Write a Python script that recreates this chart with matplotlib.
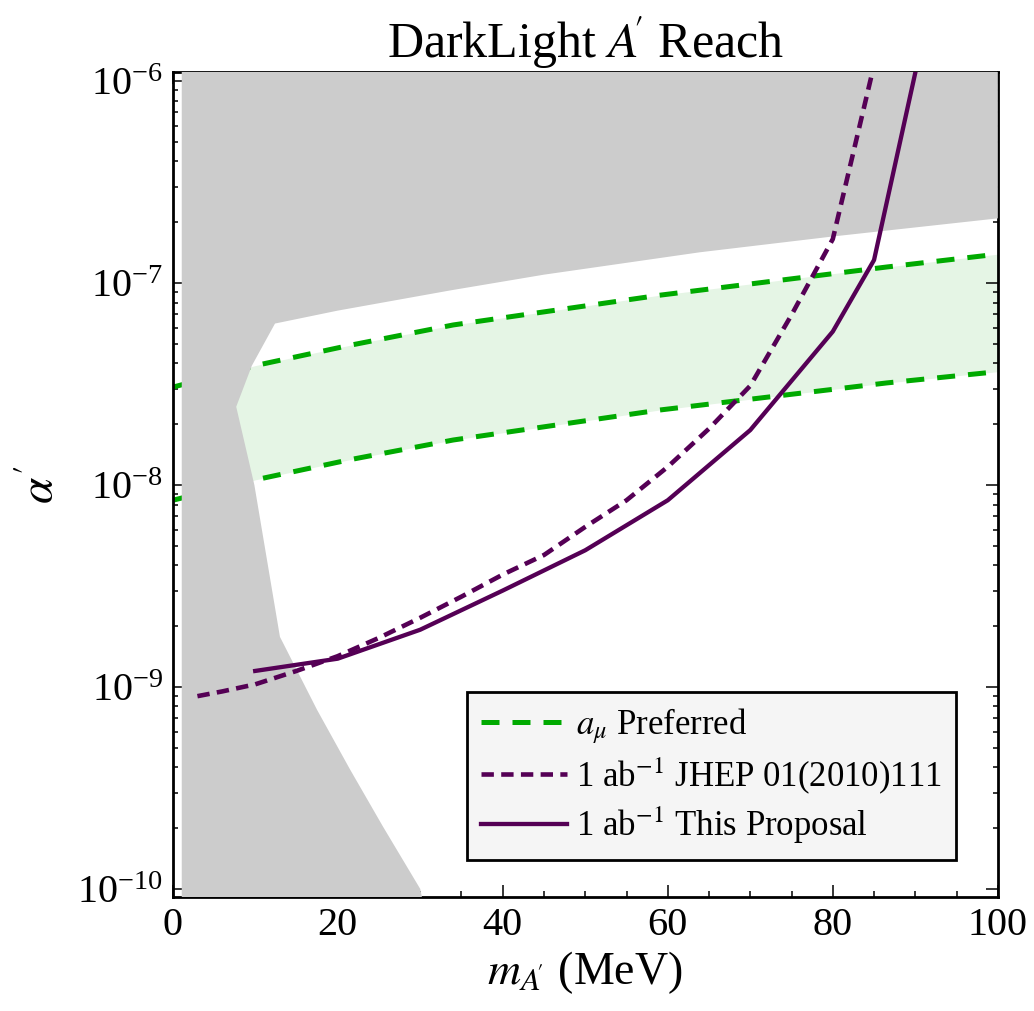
import numpy as np
import matplotlib
matplotlib.use("Agg")
import matplotlib.pyplot as plt
from matplotlib.patches import Rectangle
from matplotlib.ticker import NullFormatter

plt.rcParams["font.family"] = ["Liberation Serif", "DejaVu Serif"]
plt.rcParams["mathtext.fontset"] = "stix"

# excluded region (grey), outline in (MeV, alpha')
grey_x = [1.1, 1.1, 30.5, 30.0, 25.5, 21.5, 17.5, 13.0, 9.9, 7.7,
          9.6, 12.4, 20, 33.7, 45, 63.9, 80, 100, 100]
grey_y = [1.2e-6, 8e-11, 8e-11, 1.0e-10, 2.03e-10, 3.9e-10, 7.7e-10, 1.77e-9, 1.0e-8, 2.44e-8,
          3.9e-8, 6.3e-8, 7.3e-8, 9.2e-8, 1.1e-7, 1.42e-7, 1.70e-7, 2.09e-7, 1.2e-6]

# a_mu preferred band
amu_x = [0, 10, 21.3, 34, 59, 86.5, 100]
amu_hi = [3.05e-8, 3.9e-8, 4.9e-8, 6.2e-8, 8.7e-8, 1.2e-7, 1.39e-7]
amu_lo = [8.4e-9, 1.06e-8, 1.33e-8, 1.67e-8, 2.35e-8, 3.2e-8, 3.64e-8]

# 1 ab^-1 JHEP 01(2010)111
jhep_x = [3, 6, 10, 15, 20, 25, 30, 35, 40, 45, 50, 55, 60, 65, 70, 75, 80, 85]
jhep_y = [9.0e-10, 9.5e-10, 1.03e-9, 1.2e-9, 1.42e-9, 1.75e-9, 2.2e-9, 2.8e-9, 3.6e-9,
          4.5e-9, 6.2e-9, 8.4e-9, 1.23e-8, 1.9e-8, 3.1e-8, 6.95e-8, 1.65e-7, 1.2e-6]

# 1 ab^-1 this proposal
prop_x = [10, 20, 30, 40, 50, 60, 70, 80, 85, 90]
prop_y = [1.2e-9, 1.38e-9, 1.92e-9, 3.0e-9, 4.75e-9, 8.4e-9, 1.87e-8, 5.75e-8, 1.3e-7, 1.1e-6]

green = "#00aa00"
purple = "#550055"

fig = plt.figure(figsize=(10.34, 10.11), dpi=100)
ax = fig.add_axes([0.167, 0.1128, 0.798, 0.816])
ylo, yhi = 10 ** -10.04, 10 ** -5.955
ax.set_yscale("log")
ax.set_xlim(0, 100)
ax.set_ylim(ylo, yhi)

band = ax.fill_between(amu_x, amu_lo, amu_hi, color="#e5f5e5", lw=0, zorder=1)
band.set_clip_path(Rectangle((1.1, ylo), 100, yhi, transform=ax.transData))
ax.plot(amu_x, amu_hi, color=green, lw=3.6, dashes=(3.6, 2.6), zorder=2,
        label=r"$a_\mu$ Preferred")
ax.plot(amu_x, amu_lo, color=green, lw=3.6, dashes=(3.6, 2.6), zorder=2)
ax.fill(grey_x, grey_y, color="#cccccc", lw=0, zorder=3)
ax.plot(jhep_x, jhep_y, color=purple, lw=3.3, dashes=(2.7, 1.6), zorder=4,
        label=r"1 ab$^{-1}$ JHEP 01(2010)111")
ax.plot(prop_x, prop_y, color=purple, lw=3.1, zorder=4,
        label=r"1 ab$^{-1}$ This Proposal")

ax.set_xticks([0, 20, 40, 60, 80, 100])
ax.set_xticks(np.arange(0, 101, 5), minor=True)
ax.yaxis.set_minor_formatter(NullFormatter())
ax.tick_params(which="both", direction="in", top=True, right=True, width=1.1,
               labelsize=29)
ax.tick_params(which="major", length=8.5, pad=7)
ax.tick_params(which="minor", length=4.5)
ax.tick_params(axis="y", which="minor", length=3.5)
for s in ax.spines.values():
    s.set_linewidth(2)

ax.set_title(r"DarkLight $A\!'$ Reach", fontsize=36, pad=10)
ax.set_xlabel(r"$m_{A\!'}$ (MeV)", fontsize=33, labelpad=4)
ax.set_ylabel(r"$\alpha'$", fontsize=34, labelpad=10)

leg = ax.legend(loc="lower right", bbox_to_anchor=(0.949, 0.0448), borderaxespad=0,
                fontsize=25, fancybox=False, framealpha=1, facecolor="#f5f5f5",
                edgecolor="black", handlelength=2.5, handletextpad=0.25,
                labelspacing=0.25, borderpad=0.4)
leg.get_frame().set_linewidth(2)
leg.set_zorder(5)

fig.savefig("out.png", dpi=100)
